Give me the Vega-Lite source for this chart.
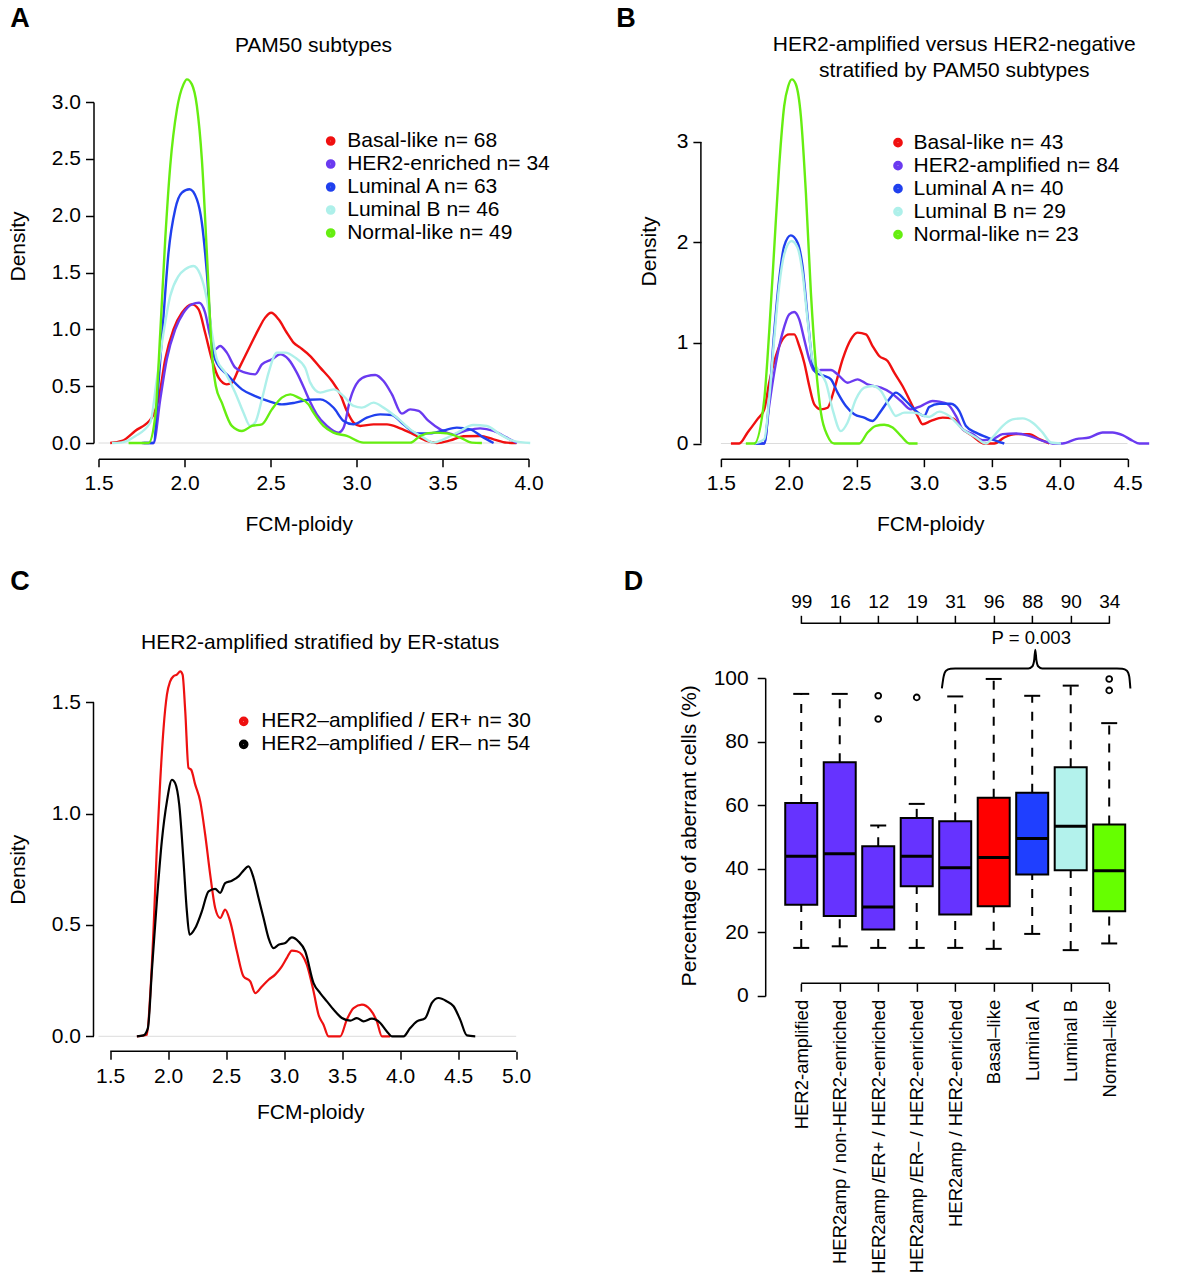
{
  "$schema": "https://vega.github.io/schema/vega-lite/v6.json",
  "background": "white",
  "padding": {"left": 6.5, "top": 4, "right": 5, "bottom": 5},
  "columns": 2,
  "bounds": "flush",
  "align": "all",
  "spacing": {"row": 217, "column": 192.4},
  "resolve": {"scale": {"color": "independent", "x": "independent", "y": "independent"}, "legend": {"color": "independent"}},
  "config": {
    "font": "Liberation Sans",
    "view": {"stroke": null},
    "axis": {"grid": false, "labelFont": "Liberation Sans", "titleFont": "Liberation Sans", "labelFontSize": 21, "titleFontSize": 21, "titleFontWeight": "normal", "labelColor": "#000", "titleColor": "#000", "tickColor": "#000", "domainColor": "#000", "tickSize": 8, "tickWidth": 1.5, "domainWidth": 1.5, "labelFlush": false, "labelOverlap": false, "labelPadding": 6, "labelLimit": 400},
    "legend": {"labelFont": "Liberation Sans", "labelFontSize": 21, "labelColor": "#000", "symbolType": "circle", "symbolSize": 20, "symbolStrokeWidth": 5.2, "rowPadding": 1, "clipHeight": 21, "padding": 0, "labelLimit": 600}
  },
  "datasets": {
    "pamA": [
      {"g":"Basal-like n= 68","x":1.568,"y":0},{"g":"Basal-like n= 68","x":1.636,"y":0.018},{"g":"Basal-like n= 68","x":1.713,"y":0.106},{"g":"Basal-like n= 68","x":1.81,"y":0.223},{"g":"Basal-like n= 68","x":1.849,"y":0.384},{"g":"Basal-like n= 68","x":1.888,"y":0.736},{"g":"Basal-like n= 68","x":1.936,"y":1.0},{"g":"Basal-like n= 68","x":1.985,"y":1.146},{"g":"Basal-like n= 68","x":2.043,"y":1.22},{"g":"Basal-like n= 68","x":2.082,"y":1.176},{"g":"Basal-like n= 68","x":2.12,"y":0.97},{"g":"Basal-like n= 68","x":2.159,"y":0.736},{"g":"Basal-like n= 68","x":2.198,"y":0.575},{"g":"Basal-like n= 68","x":2.246,"y":0.516},{"g":"Basal-like n= 68","x":2.275,"y":0.53},{"g":"Basal-like n= 68","x":2.314,"y":0.648},{"g":"Basal-like n= 68","x":2.372,"y":0.824},{"g":"Basal-like n= 68","x":2.43,"y":1.0},{"g":"Basal-like n= 68","x":2.469,"y":1.103},{"g":"Basal-like n= 68","x":2.504,"y":1.146},{"g":"Basal-like n= 68","x":2.547,"y":1.088},{"g":"Basal-like n= 68","x":2.595,"y":0.97},{"g":"Basal-like n= 68","x":2.634,"y":0.883},{"g":"Basal-like n= 68","x":2.673,"y":0.839},{"g":"Basal-like n= 68","x":2.731,"y":0.765},{"g":"Basal-like n= 68","x":2.789,"y":0.663},{"g":"Basal-like n= 68","x":2.857,"y":0.545},{"g":"Basal-like n= 68","x":2.905,"y":0.428},{"g":"Basal-like n= 68","x":2.944,"y":0.282},{"g":"Basal-like n= 68","x":2.983,"y":0.179},{"g":"Basal-like n= 68","x":3.021,"y":0.15},{"g":"Basal-like n= 68","x":3.099,"y":0.164},{"g":"Basal-like n= 68","x":3.177,"y":0.164},{"g":"Basal-like n= 68","x":3.254,"y":0.129},{"g":"Basal-like n= 68","x":3.332,"y":0.076},{"g":"Basal-like n= 68","x":3.409,"y":0.018},{"g":"Basal-like n= 68","x":3.467,"y":0},{"g":"Basal-like n= 68","x":3.545,"y":0.023},{"g":"Basal-like n= 68","x":3.622,"y":0.059},{"g":"Basal-like n= 68","x":3.719,"y":0.062},{"g":"Basal-like n= 68","x":3.797,"y":0.032},{"g":"Basal-like n= 68","x":3.874,"y":0.003},{"g":"Basal-like n= 68","x":3.93,"y":0},
      {"g":"HER2-enriched n= 34","x":1.752,"y":0},{"g":"HER2-enriched n= 34","x":1.82,"y":0},{"g":"HER2-enriched n= 34","x":1.859,"y":0.384},{"g":"HER2-enriched n= 34","x":1.897,"y":0.736},{"g":"HER2-enriched n= 34","x":1.946,"y":1.0},{"g":"HER2-enriched n= 34","x":1.994,"y":1.146},{"g":"HER2-enriched n= 34","x":2.043,"y":1.22},{"g":"HER2-enriched n= 34","x":2.085,"y":1.234},{"g":"HER2-enriched n= 34","x":2.12,"y":1.146},{"g":"HER2-enriched n= 34","x":2.149,"y":0.941},{"g":"HER2-enriched n= 34","x":2.178,"y":0.824},{"g":"HER2-enriched n= 34","x":2.207,"y":0.853},{"g":"HER2-enriched n= 34","x":2.246,"y":0.795},{"g":"HER2-enriched n= 34","x":2.295,"y":0.663},{"g":"HER2-enriched n= 34","x":2.353,"y":0.619},{"g":"HER2-enriched n= 34","x":2.411,"y":0.604},{"g":"HER2-enriched n= 34","x":2.45,"y":0.692},{"g":"HER2-enriched n= 34","x":2.508,"y":0.736},{"g":"HER2-enriched n= 34","x":2.556,"y":0.78},{"g":"HER2-enriched n= 34","x":2.605,"y":0.736},{"g":"HER2-enriched n= 34","x":2.653,"y":0.619},{"g":"HER2-enriched n= 34","x":2.702,"y":0.46},{"g":"HER2-enriched n= 34","x":2.731,"y":0.36},{"g":"HER2-enriched n= 34","x":2.769,"y":0.252},{"g":"HER2-enriched n= 34","x":2.828,"y":0.15},{"g":"HER2-enriched n= 34","x":2.895,"y":0.091},{"g":"HER2-enriched n= 34","x":2.925,"y":0.135},{"g":"HER2-enriched n= 34","x":2.963,"y":0.384},{"g":"HER2-enriched n= 34","x":3.012,"y":0.545},{"g":"HER2-enriched n= 34","x":3.06,"y":0.589},{"g":"HER2-enriched n= 34","x":3.109,"y":0.598},{"g":"HER2-enriched n= 34","x":3.157,"y":0.545},{"g":"HER2-enriched n= 34","x":3.206,"y":0.428},{"g":"HER2-enriched n= 34","x":3.264,"y":0.258},{"g":"HER2-enriched n= 34","x":3.312,"y":0.296},{"g":"HER2-enriched n= 34","x":3.361,"y":0.282},{"g":"HER2-enriched n= 34","x":3.419,"y":0.194},{"g":"HER2-enriched n= 34","x":3.487,"y":0.12},{"g":"HER2-enriched n= 34","x":3.564,"y":0.076},{"g":"HER2-enriched n= 34","x":3.641,"y":0.111},{"g":"HER2-enriched n= 34","x":3.719,"y":0.129},{"g":"HER2-enriched n= 34","x":3.797,"y":0.106},{"g":"HER2-enriched n= 34","x":3.874,"y":0.047},{"g":"HER2-enriched n= 34","x":3.933,"y":0},
      {"g":"Luminal A n= 63","x":1.762,"y":0},{"g":"Luminal A n= 63","x":1.82,"y":0},{"g":"Luminal A n= 63","x":1.849,"y":0.53},{"g":"Luminal A n= 63","x":1.878,"y":1.117},{"g":"Luminal A n= 63","x":1.907,"y":1.674},{"g":"Luminal A n= 63","x":1.946,"y":2.056},{"g":"Luminal A n= 63","x":1.985,"y":2.202},{"g":"Luminal A n= 63","x":2.029,"y":2.232},{"g":"Luminal A n= 63","x":2.072,"y":2.144},{"g":"Luminal A n= 63","x":2.101,"y":1.938},{"g":"Luminal A n= 63","x":2.13,"y":1.498},{"g":"Luminal A n= 63","x":2.159,"y":0.883},{"g":"Luminal A n= 63","x":2.178,"y":0.736},{"g":"Luminal A n= 63","x":2.256,"y":0.589},{"g":"Luminal A n= 63","x":2.334,"y":0.472},{"g":"Luminal A n= 63","x":2.411,"y":0.413},{"g":"Luminal A n= 63","x":2.489,"y":0.369},{"g":"Luminal A n= 63","x":2.566,"y":0.34},{"g":"Luminal A n= 63","x":2.644,"y":0.355},{"g":"Luminal A n= 63","x":2.72,"y":0.38},{"g":"Luminal A n= 63","x":2.789,"y":0.384},{"g":"Luminal A n= 63","x":2.867,"y":0.31},{"g":"Luminal A n= 63","x":2.925,"y":0.194},{"g":"Luminal A n= 63","x":2.983,"y":0.164},{"g":"Luminal A n= 63","x":3.06,"y":0.223},{"g":"Luminal A n= 63","x":3.138,"y":0.252},{"g":"Luminal A n= 63","x":3.206,"y":0.246},{"g":"Luminal A n= 63","x":3.273,"y":0.164},{"g":"Luminal A n= 63","x":3.351,"y":0.085},{"g":"Luminal A n= 63","x":3.428,"y":0.085},{"g":"Luminal A n= 63","x":3.506,"y":0.111},{"g":"Luminal A n= 63","x":3.583,"y":0.135},{"g":"Luminal A n= 63","x":3.661,"y":0.12},{"g":"Luminal A n= 63","x":3.739,"y":0.047},{"g":"Luminal A n= 63","x":3.797,"y":0},
      {"g":"Luminal B n= 46","x":1.578,"y":0},{"g":"Luminal B n= 46","x":1.636,"y":0.006},{"g":"Luminal B n= 46","x":1.713,"y":0.06},{"g":"Luminal B n= 46","x":1.801,"y":0.18},{"g":"Luminal B n= 46","x":1.839,"y":0.56},{"g":"Luminal B n= 46","x":1.878,"y":0.97},{"g":"Luminal B n= 46","x":1.917,"y":1.293},{"g":"Luminal B n= 46","x":1.965,"y":1.469},{"g":"Luminal B n= 46","x":2.004,"y":1.528},{"g":"Luminal B n= 46","x":2.052,"y":1.557},{"g":"Luminal B n= 46","x":2.091,"y":1.484},{"g":"Luminal B n= 46","x":2.13,"y":1.264},{"g":"Luminal B n= 46","x":2.159,"y":0.97},{"g":"Luminal B n= 46","x":2.188,"y":0.736},{"g":"Luminal B n= 46","x":2.237,"y":0.619},{"g":"Luminal B n= 46","x":2.295,"y":0.443},{"g":"Luminal B n= 46","x":2.343,"y":0.267},{"g":"Luminal B n= 46","x":2.382,"y":0.15},{"g":"Luminal B n= 46","x":2.411,"y":0.18},{"g":"Luminal B n= 46","x":2.45,"y":0.384},{"g":"Luminal B n= 46","x":2.489,"y":0.619},{"g":"Luminal B n= 46","x":2.537,"y":0.795},{"g":"Luminal B n= 46","x":2.585,"y":0.795},{"g":"Luminal B n= 46","x":2.644,"y":0.751},{"g":"Luminal B n= 46","x":2.702,"y":0.66},{"g":"Luminal B n= 46","x":2.731,"y":0.531},{"g":"Luminal B n= 46","x":2.789,"y":0.443},{"g":"Luminal B n= 46","x":2.867,"y":0.472},{"g":"Luminal B n= 46","x":2.925,"y":0.413},{"g":"Luminal B n= 46","x":2.983,"y":0.326},{"g":"Luminal B n= 46","x":3.031,"y":0.311},{"g":"Luminal B n= 46","x":3.099,"y":0.355},{"g":"Luminal B n= 46","x":3.157,"y":0.311},{"g":"Luminal B n= 46","x":3.235,"y":0.223},{"g":"Luminal B n= 46","x":3.312,"y":0.12},{"g":"Luminal B n= 46","x":3.39,"y":0.047},{"g":"Luminal B n= 46","x":3.448,"y":0.003},{"g":"Luminal B n= 46","x":3.506,"y":0.032},{"g":"Luminal B n= 46","x":3.584,"y":0.09},{"g":"Luminal B n= 46","x":3.68,"y":0.158},{"g":"Luminal B n= 46","x":3.758,"y":0.15},{"g":"Luminal B n= 46","x":3.835,"y":0.076},{"g":"Luminal B n= 46","x":3.913,"y":0.018},{"g":"Luminal B n= 46","x":4.01,"y":0},
      {"g":"Normal-like n= 49","x":1.675,"y":0},{"g":"Normal-like n= 49","x":1.791,"y":0},{"g":"Normal-like n= 49","x":1.83,"y":0.237},{"g":"Normal-like n= 49","x":1.859,"y":0.97},{"g":"Normal-like n= 49","x":1.888,"y":1.792},{"g":"Normal-like n= 49","x":1.917,"y":2.437},{"g":"Normal-like n= 49","x":1.956,"y":2.935},{"g":"Normal-like n= 49","x":1.994,"y":3.155},{"g":"Normal-like n= 49","x":2.014,"y":3.199},{"g":"Normal-like n= 49","x":2.043,"y":3.155},{"g":"Normal-like n= 49","x":2.072,"y":2.965},{"g":"Normal-like n= 49","x":2.101,"y":2.495},{"g":"Normal-like n= 49","x":2.13,"y":1.674},{"g":"Normal-like n= 49","x":2.159,"y":0.795},{"g":"Normal-like n= 49","x":2.182,"y":0.501},{"g":"Normal-like n= 49","x":2.217,"y":0.355},{"g":"Normal-like n= 49","x":2.275,"y":0.15},{"g":"Normal-like n= 49","x":2.334,"y":0.105},{"g":"Normal-like n= 49","x":2.392,"y":0.15},{"g":"Normal-like n= 49","x":2.45,"y":0.164},{"g":"Normal-like n= 49","x":2.508,"y":0.296},{"g":"Normal-like n= 49","x":2.566,"y":0.399},{"g":"Normal-like n= 49","x":2.615,"y":0.428},{"g":"Normal-like n= 49","x":2.663,"y":0.399},{"g":"Normal-like n= 49","x":2.721,"y":0.34},{"g":"Normal-like n= 49","x":2.75,"y":0.267},{"g":"Normal-like n= 49","x":2.808,"y":0.15},{"g":"Normal-like n= 49","x":2.866,"y":0.091},{"g":"Normal-like n= 49","x":2.944,"y":0.062},{"g":"Normal-like n= 49","x":3.041,"y":0.003},{"g":"Normal-like n= 49","x":3.312,"y":0.003},{"g":"Normal-like n= 49","x":3.37,"y":0.062},{"g":"Normal-like n= 49","x":3.448,"y":0.091},{"g":"Normal-like n= 49","x":3.525,"y":0.085},{"g":"Normal-like n= 49","x":3.603,"y":0.047},{"g":"Normal-like n= 49","x":3.671,"y":0.003},{"g":"Normal-like n= 49","x":3.729,"y":0}
    ],
    "pamB": [
      {"g":"Basal-like n= 43","x":1.574,"y":0},{"g":"Basal-like n= 43","x":1.635,"y":0},{"g":"Basal-like n= 43","x":1.697,"y":0.109},{"g":"Basal-like n= 43","x":1.77,"y":0.242},{"g":"Basal-like n= 43","x":1.82,"y":0.34},{"g":"Basal-like n= 43","x":1.856,"y":0.605},{"g":"Basal-like n= 43","x":1.906,"y":0.871},{"g":"Basal-like n= 43","x":1.955,"y":1.036},{"g":"Basal-like n= 43","x":2.004,"y":1.086},{"g":"Basal-like n= 43","x":2.041,"y":1.086},{"g":"Basal-like n= 43","x":2.078,"y":0.97},{"g":"Basal-like n= 43","x":2.115,"y":0.804},{"g":"Basal-like n= 43","x":2.152,"y":0.572},{"g":"Basal-like n= 43","x":2.189,"y":0.39},{"g":"Basal-like n= 43","x":2.238,"y":0.34},{"g":"Basal-like n= 43","x":2.287,"y":0.356},{"g":"Basal-like n= 43","x":2.336,"y":0.539},{"g":"Basal-like n= 43","x":2.398,"y":0.837},{"g":"Basal-like n= 43","x":2.459,"y":1.036},{"g":"Basal-like n= 43","x":2.508,"y":1.103},{"g":"Basal-like n= 43","x":2.57,"y":1.086},{"g":"Basal-like n= 43","x":2.619,"y":0.97},{"g":"Basal-like n= 43","x":2.668,"y":0.871},{"g":"Basal-like n= 43","x":2.73,"y":0.821},{"g":"Basal-like n= 43","x":2.779,"y":0.705},{"g":"Basal-like n= 43","x":2.84,"y":0.572},{"g":"Basal-like n= 43","x":2.902,"y":0.406},{"g":"Basal-like n= 43","x":2.951,"y":0.274},{"g":"Basal-like n= 43","x":2.988,"y":0.191},{"g":"Basal-like n= 43","x":3.05,"y":0.224},{"g":"Basal-like n= 43","x":3.136,"y":0.257},{"g":"Basal-like n= 43","x":3.21,"y":0.25},{"g":"Basal-like n= 43","x":3.283,"y":0.143},{"g":"Basal-like n= 43","x":3.357,"y":0.075},{"g":"Basal-like n= 43","x":3.443,"y":0},{"g":"Basal-like n= 43","x":3.517,"y":0},{"g":"Basal-like n= 43","x":3.591,"y":0.06},{"g":"Basal-like n= 43","x":3.677,"y":0.093},{"g":"Basal-like n= 43","x":3.775,"y":0.093},{"g":"Basal-like n= 43","x":3.849,"y":0.043},{"g":"Basal-like n= 43","x":3.923,"y":0},
      {"g":"HER2-amplified n= 84","x":1.746,"y":0},{"g":"HER2-amplified n= 84","x":1.82,"y":0},{"g":"HER2-amplified n= 84","x":1.856,"y":0.373},{"g":"HER2-amplified n= 84","x":1.906,"y":0.804},{"g":"HER2-amplified n= 84","x":1.955,"y":1.103},{"g":"HER2-amplified n= 84","x":2.004,"y":1.285},{"g":"HER2-amplified n= 84","x":2.041,"y":1.308},{"g":"HER2-amplified n= 84","x":2.078,"y":1.235},{"g":"HER2-amplified n= 84","x":2.115,"y":1.036},{"g":"HER2-amplified n= 84","x":2.152,"y":0.837},{"g":"HER2-amplified n= 84","x":2.189,"y":0.721},{"g":"HER2-amplified n= 84","x":2.238,"y":0.731},{"g":"HER2-amplified n= 84","x":2.312,"y":0.731},{"g":"HER2-amplified n= 84","x":2.361,"y":0.688},{"g":"HER2-amplified n= 84","x":2.435,"y":0.605},{"g":"HER2-amplified n= 84","x":2.508,"y":0.638},{"g":"HER2-amplified n= 84","x":2.582,"y":0.588},{"g":"HER2-amplified n= 84","x":2.681,"y":0.555},{"g":"HER2-amplified n= 84","x":2.754,"y":0.506},{"g":"HER2-amplified n= 84","x":2.828,"y":0.423},{"g":"HER2-amplified n= 84","x":2.902,"y":0.34},{"g":"HER2-amplified n= 84","x":2.976,"y":0.373},{"g":"HER2-amplified n= 84","x":3.062,"y":0.423},{"g":"HER2-amplified n= 84","x":3.111,"y":0.416},{"g":"HER2-amplified n= 84","x":3.173,"y":0.39},{"g":"HER2-amplified n= 84","x":3.234,"y":0.274},{"g":"HER2-amplified n= 84","x":3.283,"y":0.143},{"g":"HER2-amplified n= 84","x":3.357,"y":0.093},{"g":"HER2-amplified n= 84","x":3.431,"y":0.033},{"g":"HER2-amplified n= 84","x":3.505,"y":0.043},{"g":"HER2-amplified n= 84","x":3.578,"y":0.093},{"g":"HER2-amplified n= 84","x":3.677,"y":0.1},{"g":"HER2-amplified n= 84","x":3.775,"y":0.076},{"g":"HER2-amplified n= 84","x":3.874,"y":0.027},{"g":"HER2-amplified n= 84","x":3.947,"y":0},{"g":"HER2-amplified n= 84","x":4.021,"y":0},{"g":"HER2-amplified n= 84","x":4.12,"y":0.043},{"g":"HER2-amplified n= 84","x":4.218,"y":0.06},{"g":"HER2-amplified n= 84","x":4.317,"y":0.11},{"g":"HER2-amplified n= 84","x":4.39,"y":0.11},{"g":"HER2-amplified n= 84","x":4.464,"y":0.083},{"g":"HER2-amplified n= 84","x":4.538,"y":0.027},{"g":"HER2-amplified n= 84","x":4.587,"y":0},{"g":"HER2-amplified n= 84","x":4.66,"y":0},
      {"g":"Luminal A n= 40","x":1.746,"y":0},{"g":"Luminal A n= 40","x":1.82,"y":0},{"g":"Luminal A n= 40","x":1.856,"y":0.44},{"g":"Luminal A n= 40","x":1.893,"y":1.103},{"g":"Luminal A n= 40","x":1.93,"y":1.633},{"g":"Luminal A n= 40","x":1.967,"y":1.965},{"g":"Luminal A n= 40","x":2.016,"y":2.071},{"g":"Luminal A n= 40","x":2.066,"y":1.998},{"g":"Luminal A n= 40","x":2.102,"y":1.766},{"g":"Luminal A n= 40","x":2.139,"y":1.268},{"g":"Luminal A n= 40","x":2.176,"y":0.804},{"g":"Luminal A n= 40","x":2.201,"y":0.705},{"g":"Luminal A n= 40","x":2.262,"y":0.672},{"g":"Luminal A n= 40","x":2.312,"y":0.638},{"g":"Luminal A n= 40","x":2.361,"y":0.506},{"g":"Luminal A n= 40","x":2.422,"y":0.373},{"g":"Luminal A n= 40","x":2.484,"y":0.291},{"g":"Luminal A n= 40","x":2.557,"y":0.257},{"g":"Luminal A n= 40","x":2.619,"y":0.224},{"g":"Luminal A n= 40","x":2.681,"y":0.324},{"g":"Luminal A n= 40","x":2.742,"y":0.44},{"g":"Luminal A n= 40","x":2.791,"y":0.506},{"g":"Luminal A n= 40","x":2.853,"y":0.44},{"g":"Luminal A n= 40","x":2.926,"y":0.34},{"g":"Luminal A n= 40","x":3.0,"y":0.274},{"g":"Luminal A n= 40","x":3.037,"y":0.363},{"g":"Luminal A n= 40","x":3.111,"y":0.396},{"g":"Luminal A n= 40","x":3.197,"y":0.396},{"g":"Luminal A n= 40","x":3.259,"y":0.323},{"g":"Luminal A n= 40","x":3.308,"y":0.174},{"g":"Luminal A n= 40","x":3.382,"y":0.108},{"g":"Luminal A n= 40","x":3.48,"y":0.052},{"g":"Luminal A n= 40","x":3.591,"y":0},
      {"g":"Luminal B n= 29","x":1.746,"y":0},{"g":"Luminal B n= 29","x":1.82,"y":0.043},{"g":"Luminal B n= 29","x":1.856,"y":0.44},{"g":"Luminal B n= 29","x":1.893,"y":1.036},{"g":"Luminal B n= 29","x":1.93,"y":1.567},{"g":"Luminal B n= 29","x":1.967,"y":1.882},{"g":"Luminal B n= 29","x":2.021,"y":2.015},{"g":"Luminal B n= 29","x":2.066,"y":1.948},{"g":"Luminal B n= 29","x":2.102,"y":1.7},{"g":"Luminal B n= 29","x":2.139,"y":1.235},{"g":"Luminal B n= 29","x":2.176,"y":0.837},{"g":"Luminal B n= 29","x":2.225,"y":0.721},{"g":"Luminal B n= 29","x":2.275,"y":0.605},{"g":"Luminal B n= 29","x":2.324,"y":0.34},{"g":"Luminal B n= 29","x":2.385,"y":0.123},{"g":"Luminal B n= 29","x":2.434,"y":0.207},{"g":"Luminal B n= 29","x":2.496,"y":0.44},{"g":"Luminal B n= 29","x":2.558,"y":0.555},{"g":"Luminal B n= 29","x":2.619,"y":0.572},{"g":"Luminal B n= 29","x":2.681,"y":0.522},{"g":"Luminal B n= 29","x":2.742,"y":0.373},{"g":"Luminal B n= 29","x":2.791,"y":0.274},{"g":"Luminal B n= 29","x":2.853,"y":0.307},{"g":"Luminal B n= 29","x":2.926,"y":0.307},{"g":"Luminal B n= 29","x":3.0,"y":0.274},{"g":"Luminal B n= 29","x":3.037,"y":0.264},{"g":"Luminal B n= 29","x":3.111,"y":0.317},{"g":"Luminal B n= 29","x":3.185,"y":0.274},{"g":"Luminal B n= 29","x":3.283,"y":0.143},{"g":"Luminal B n= 29","x":3.382,"y":0.06},{"g":"Luminal B n= 29","x":3.455,"y":0},{"g":"Luminal B n= 29","x":3.505,"y":0.06},{"g":"Luminal B n= 29","x":3.578,"y":0.174},{"g":"Luminal B n= 29","x":3.652,"y":0.24},{"g":"Luminal B n= 29","x":3.726,"y":0.25},{"g":"Luminal B n= 29","x":3.8,"y":0.207},{"g":"Luminal B n= 29","x":3.874,"y":0.108},{"g":"Luminal B n= 29","x":3.935,"y":0.01},{"g":"Luminal B n= 29","x":4.009,"y":0},
      {"g":"Normal-like n= 23","x":1.684,"y":0},{"g":"Normal-like n= 23","x":1.746,"y":0},{"g":"Normal-like n= 23","x":1.82,"y":0.44},{"g":"Normal-like n= 23","x":1.856,"y":1.103},{"g":"Normal-like n= 23","x":1.893,"y":1.932},{"g":"Normal-like n= 23","x":1.93,"y":2.761},{"g":"Normal-like n= 23","x":1.967,"y":3.358},{"g":"Normal-like n= 23","x":1.997,"y":3.557},{"g":"Normal-like n= 23","x":2.024,"y":3.623},{"g":"Normal-like n= 23","x":2.053,"y":3.574},{"g":"Normal-like n= 23","x":2.09,"y":3.258},{"g":"Normal-like n= 23","x":2.127,"y":2.496},{"g":"Normal-like n= 23","x":2.164,"y":1.501},{"g":"Normal-like n= 23","x":2.201,"y":0.771},{"g":"Normal-like n= 23","x":2.238,"y":0.307},{"g":"Normal-like n= 23","x":2.287,"y":0.076},{"g":"Normal-like n= 23","x":2.336,"y":0},{"g":"Normal-like n= 23","x":2.521,"y":0},{"g":"Normal-like n= 23","x":2.582,"y":0.109},{"g":"Normal-like n= 23","x":2.644,"y":0.176},{"g":"Normal-like n= 23","x":2.705,"y":0.186},{"g":"Normal-like n= 23","x":2.767,"y":0.159},{"g":"Normal-like n= 23","x":2.828,"y":0.076},{"g":"Normal-like n= 23","x":2.89,"y":0},{"g":"Normal-like n= 23","x":2.951,"y":0}
    ],
    "erC": [
      {"g":"HER2–amplified / ER+ n= 30","x":1.73,"y":0},{"g":"HER2–amplified / ER+ n= 30","x":1.816,"y":0.007},{"g":"HER2–amplified / ER+ n= 30","x":1.845,"y":0.187},{"g":"HER2–amplified / ER+ n= 30","x":1.874,"y":0.486},{"g":"HER2–amplified / ER+ n= 30","x":1.902,"y":0.846},{"g":"HER2–amplified / ER+ n= 30","x":1.931,"y":1.145},{"g":"HER2–amplified / ER+ n= 30","x":1.96,"y":1.384},{"g":"HER2–amplified / ER+ n= 30","x":1.989,"y":1.534},{"g":"HER2–amplified / ER+ n= 30","x":2.017,"y":1.594},{"g":"HER2–amplified / ER+ n= 30","x":2.046,"y":1.617},{"g":"HER2–amplified / ER+ n= 30","x":2.075,"y":1.624},{"g":"HER2–amplified / ER+ n= 30","x":2.104,"y":1.639},{"g":"HER2–amplified / ER+ n= 30","x":2.124,"y":1.624},{"g":"HER2–amplified / ER+ n= 30","x":2.147,"y":1.459},{"g":"HER2–amplified / ER+ n= 30","x":2.175,"y":1.205},{"g":"HER2–amplified / ER+ n= 30","x":2.198,"y":1.197},{"g":"HER2–amplified / ER+ n= 30","x":2.233,"y":1.13},{"g":"HER2–amplified / ER+ n= 30","x":2.276,"y":1.055},{"g":"HER2–amplified / ER+ n= 30","x":2.319,"y":0.905},{"g":"HER2–amplified / ER+ n= 30","x":2.362,"y":0.726},{"g":"HER2–amplified / ER+ n= 30","x":2.405,"y":0.576},{"g":"HER2–amplified / ER+ n= 30","x":2.448,"y":0.531},{"g":"HER2–amplified / ER+ n= 30","x":2.491,"y":0.569},{"g":"HER2–amplified / ER+ n= 30","x":2.534,"y":0.516},{"g":"HER2–amplified / ER+ n= 30","x":2.592,"y":0.382},{"g":"HER2–amplified / ER+ n= 30","x":2.649,"y":0.269},{"g":"HER2–amplified / ER+ n= 30","x":2.707,"y":0.247},{"g":"HER2–amplified / ER+ n= 30","x":2.75,"y":0.194},{"g":"HER2–amplified / ER+ n= 30","x":2.808,"y":0.224},{"g":"HER2–amplified / ER+ n= 30","x":2.865,"y":0.254},{"g":"HER2–amplified / ER+ n= 30","x":2.922,"y":0.277},{"g":"HER2–amplified / ER+ n= 30","x":2.98,"y":0.314},{"g":"HER2–amplified / ER+ n= 30","x":3.023,"y":0.352},{"g":"HER2–amplified / ER+ n= 30","x":3.066,"y":0.385},{"g":"HER2–amplified / ER+ n= 30","x":3.109,"y":0.382},{"g":"HER2–amplified / ER+ n= 30","x":3.152,"y":0.367},{"g":"HER2–amplified / ER+ n= 30","x":3.195,"y":0.322},{"g":"HER2–amplified / ER+ n= 30","x":3.253,"y":0.202},{"g":"HER2–amplified / ER+ n= 30","x":3.296,"y":0.097},{"g":"HER2–amplified / ER+ n= 30","x":3.339,"y":0.052},{"g":"HER2–amplified / ER+ n= 30","x":3.382,"y":0},{"g":"HER2–amplified / ER+ n= 30","x":3.483,"y":0},{"g":"HER2–amplified / ER+ n= 30","x":3.54,"y":0.075},{"g":"HER2–amplified / ER+ n= 30","x":3.598,"y":0.127},{"g":"HER2–amplified / ER+ n= 30","x":3.67,"y":0.142},{"g":"HER2–amplified / ER+ n= 30","x":3.741,"y":0.12},{"g":"HER2–amplified / ER+ n= 30","x":3.799,"y":0.067},{"g":"HER2–amplified / ER+ n= 30","x":3.842,"y":0},{"g":"HER2–amplified / ER+ n= 30","x":3.914,"y":0},
      {"g":"HER2–amplified / ER– n= 54","x":1.73,"y":0},{"g":"HER2–amplified / ER– n= 54","x":1.787,"y":0.004},{"g":"HER2–amplified / ER– n= 54","x":1.825,"y":0.037},{"g":"HER2–amplified / ER– n= 54","x":1.859,"y":0.292},{"g":"HER2–amplified / ER– n= 54","x":1.902,"y":0.606},{"g":"HER2–amplified / ER– n= 54","x":1.945,"y":0.876},{"g":"HER2–amplified / ER– n= 54","x":1.989,"y":1.055},{"g":"HER2–amplified / ER– n= 54","x":2.032,"y":1.152},{"g":"HER2–amplified / ER– n= 54","x":2.06,"y":1.137},{"g":"HER2–amplified / ER– n= 54","x":2.095,"y":1.04},{"g":"HER2–amplified / ER– n= 54","x":2.132,"y":0.786},{"g":"HER2–amplified / ER– n= 54","x":2.161,"y":0.561},{"g":"HER2–amplified / ER– n= 54","x":2.184,"y":0.456},{"g":"HER2–amplified / ER– n= 54","x":2.233,"y":0.486},{"g":"HER2–amplified / ER– n= 54","x":2.29,"y":0.561},{"g":"HER2–amplified / ER– n= 54","x":2.348,"y":0.651},{"g":"HER2–amplified / ER– n= 54","x":2.405,"y":0.662},{"g":"HER2–amplified / ER– n= 54","x":2.448,"y":0.644},{"g":"HER2–amplified / ER– n= 54","x":2.491,"y":0.688},{"g":"HER2–amplified / ER– n= 54","x":2.549,"y":0.699},{"g":"HER2–amplified / ER– n= 54","x":2.606,"y":0.718},{"g":"HER2–amplified / ER– n= 54","x":2.649,"y":0.744},{"g":"HER2–amplified / ER– n= 54","x":2.693,"y":0.763},{"g":"HER2–amplified / ER– n= 54","x":2.736,"y":0.711},{"g":"HER2–amplified / ER– n= 54","x":2.779,"y":0.621},{"g":"HER2–amplified / ER– n= 54","x":2.822,"y":0.531},{"g":"HER2–amplified / ER– n= 54","x":2.865,"y":0.441},{"g":"HER2–amplified / ER– n= 54","x":2.908,"y":0.396},{"g":"HER2–amplified / ER– n= 54","x":2.951,"y":0.411},{"g":"HER2–amplified / ER– n= 54","x":3.009,"y":0.419},{"g":"HER2–amplified / ER– n= 54","x":3.066,"y":0.444},{"g":"HER2–amplified / ER– n= 54","x":3.123,"y":0.426},{"g":"HER2–amplified / ER– n= 54","x":3.181,"y":0.382},{"g":"HER2–amplified / ER– n= 54","x":3.253,"y":0.239},{"g":"HER2–amplified / ER– n= 54","x":3.31,"y":0.194},{"g":"HER2–amplified / ER– n= 54","x":3.368,"y":0.157},{"g":"HER2–amplified / ER– n= 54","x":3.425,"y":0.12},{"g":"HER2–amplified / ER– n= 54","x":3.497,"y":0.082},{"g":"HER2–amplified / ER– n= 54","x":3.569,"y":0.07},{"g":"HER2–amplified / ER– n= 54","x":3.626,"y":0.082},{"g":"HER2–amplified / ER– n= 54","x":3.684,"y":0.067},{"g":"HER2–amplified / ER– n= 54","x":3.756,"y":0.079},{"g":"HER2–amplified / ER– n= 54","x":3.828,"y":0.06},{"g":"HER2–amplified / ER– n= 54","x":3.885,"y":0.022},{"g":"HER2–amplified / ER– n= 54","x":3.928,"y":0},{"g":"HER2–amplified / ER– n= 54","x":4.029,"y":0},{"g":"HER2–amplified / ER– n= 54","x":4.086,"y":0.037},{"g":"HER2–amplified / ER– n= 54","x":4.144,"y":0.067},{"g":"HER2–amplified / ER– n= 54","x":4.216,"y":0.082},{"g":"HER2–amplified / ER– n= 54","x":4.273,"y":0.15},{"g":"HER2–amplified / ER– n= 54","x":4.331,"y":0.172},{"g":"HER2–amplified / ER– n= 54","x":4.402,"y":0.157},{"g":"HER2–amplified / ER– n= 54","x":4.46,"y":0.135},{"g":"HER2–amplified / ER– n= 54","x":4.517,"y":0.075},{"g":"HER2–amplified / ER– n= 54","x":4.575,"y":0.004},{"g":"HER2–amplified / ER– n= 54","x":4.647,"y":0}
    ],
    "boxD": [
      {"i":1,"grp":"HER2-amplified","n":99,"mn":15.1,"q1":28.7,"med":43.9,"q3":60.7,"mx":95.0},
      {"i":2,"grp":"HER2amp / non-HER2-enriched","n":16,"mn":15.6,"q1":25.1,"med":44.7,"q3":73.5,"mx":95.0},
      {"i":3,"grp":"HER2amp /ER+ / HER2-enriched","n":12,"mn":15.1,"q1":20.9,"med":28.0,"q3":47.1,"mx":53.6},
      {"i":4,"grp":"HER2amp /ER– / HER2-enriched","n":19,"mn":15.1,"q1":34.5,"med":43.9,"q3":56.0,"mx":60.4},
      {"i":5,"grp":"HER2amp / HER2-enriched","n":31,"mn":15.1,"q1":25.6,"med":40.3,"q3":54.9,"mx":94.2},
      {"i":6,"grp":"Basal–like","n":96,"mn":14.8,"q1":28.2,"med":43.5,"q3":62.3,"mx":99.7},
      {"i":7,"grp":"Luminal A","n":88,"mn":19.5,"q1":38.2,"med":49.5,"q3":63.9,"mx":94.4},
      {"i":8,"grp":"Luminal B","n":90,"mn":14.4,"q1":39.5,"med":53.4,"q3":71.9,"mx":97.6},
      {"i":9,"grp":"Normal–like","n":34,"mn":16.5,"q1":26.6,"med":39.4,"q3":53.9,"mx":85.8}
    ],
    "outD": [
      {"i":3,"v":94.4},{"i":3,"v":87.1},{"i":4,"v":93.9},{"i":9,"v":99.7},{"i":9,"v":96.1}
    ],
    "braceD": [
      {"x":4.653,"y":96.7},{"x":4.7,"y":100.5},{"x":4.76,"y":102.3},{"x":4.88,"y":102.9},{"x":5.0,"y":103.0},{"x":6.9,"y":103.0},{"x":7.0,"y":103.6},{"x":7.05,"y":105.5},{"x":7.08,"y":108.9},{"x":7.11,"y":105.5},{"x":7.16,"y":103.6},{"x":7.26,"y":103.0},{"x":9.2,"y":103.0},{"x":9.34,"y":102.9},{"x":9.46,"y":102.3},{"x":9.52,"y":100.5},{"x":9.55,"y":96.7}
    ]
  },
  "concat": [
    {
      "width": 430, "height": 341,
      "layer": [
        {"data": {"values": [{}]}, "mark": {"type": "rule", "color": "#dcdcdc", "strokeWidth": 1}, "encoding": {"y": {"datum": 0}}},
        {"data": {"name": "pamA"}, "mark": {"type": "line", "strokeWidth": 2.4, "interpolate": "monotone"},
         "encoding": {
           "x": {"field": "x", "type": "quantitative", "scale": {"domain": [1.5, 4.0], "nice": false, "zero": false},
                 "axis": {"values": [1.5, 2, 2.5, 3, 3.5, 4], "format": ".1f", "offset": 15.7, "title": "FCM-ploidy", "titleX": 200.2, "titleY": 65.3, "titleAlign": "center", "titleBaseline": "middle", "titleAngle": 0}},
           "y": {"field": "y", "type": "quantitative", "scale": {"domain": [0, 3], "nice": false},
                 "axis": {"values": [0, 0.5, 1, 1.5, 2, 2.5, 3], "format": ".1f", "offset": 5, "title": "Density", "titleX": -75.3, "titleY": 144, "titleAngle": 270, "titleAlign": "center", "titleBaseline": "middle", "labelPadding": 5}},
           "color": {"field": "g", "type": "nominal",
                     "scale": {"domain": ["Basal-like n= 68", "HER2-enriched n= 34", "Luminal A n= 63", "Luminal B n= 46", "Normal-like n= 49"], "range": ["#F01010", "#6A3AF0", "#2040EE", "#AEF0EA", "#66EE11"]},
                     "legend": {"title": null, "orient": "none", "legendX": 221.7, "legendY": 28.5, "labelOffset": 6}}
         }},
        {"data": {"values": [{}]}, "mark": {"type": "text", "text": "A", "fontSize": 27, "fontWeight": "bold", "align": "left", "baseline": "middle", "color": "#000"}, "encoding": {"x": {"datum": 0.9866}, "y": {"datum": 3.73}}},
        {"data": {"values": [{}]}, "mark": {"type": "text", "text": "PAM50 subtypes", "fontSize": 21, "align": "center", "baseline": "middle", "color": "#000"}, "encoding": {"x": {"datum": 2.75}, "y": {"datum": 3.497}}}
      ]
    },
    {
      "width": 406.6, "height": 341.5,
      "layer": [
        {"data": {"values": [{}]}, "mark": {"type": "rule", "color": "#dcdcdc", "strokeWidth": 1}, "encoding": {"y": {"datum": 0}}},
        {"data": {"name": "pamB"}, "mark": {"type": "line", "strokeWidth": 2.4, "interpolate": "monotone"},
         "encoding": {
           "x": {"field": "x", "type": "quantitative", "scale": {"domain": [1.5, 4.5], "nice": false, "zero": false},
                 "axis": {"values": [1.5, 2, 2.5, 3, 3.5, 4, 4.5], "format": ".1f", "offset": 15.2, "title": "FCM-ploidy", "titleX": 209.3, "titleY": 65.3, "titleAlign": "center", "titleBaseline": "middle", "titleAngle": 0}},
           "y": {"field": "y", "type": "quantitative", "scale": {"domain": [0, 3.398], "nice": false},
                 "axis": {"values": [0, 1, 2, 3], "format": "d", "offset": 20, "domain": false, "title": "Density", "titleX": -51.7, "titleY": 149, "titleAngle": 270, "titleAlign": "center", "titleBaseline": "middle", "labelPadding": 5}},
           "color": {"field": "g", "type": "nominal",
                     "scale": {"domain": ["Basal-like n= 43", "HER2-amplified n= 84", "Luminal A n= 40", "Luminal B n= 29", "Normal-like n= 23"], "range": ["#F01010", "#6A3AF0", "#2040EE", "#AEF0EA", "#66EE11"]},
                     "legend": {"title": null, "orient": "none", "legendX": 166.6, "legendY": 30.2, "labelOffset": 5}}
         }},
        {"data": {"values": [{}]}, "mark": {"type": "rule", "color": "#000", "strokeWidth": 1.5}, "encoding": {"x": {"datum": 1.3524}, "y": {"datum": 0}, "y2": {"datum": 3}}},
        {"data": {"values": [{}]}, "mark": {"type": "text", "text": "B", "fontSize": 27, "fontWeight": "bold", "align": "left", "baseline": "middle", "color": "#000"}, "encoding": {"x": {"datum": 0.7273}, "y": {"datum": 4.224}}},
        {"data": {"values": [{}]}, "mark": {"type": "text", "text": ["HER2-amplified versus HER2-negative", "stratified by PAM50 subtypes"], "lineHeight": 26, "fontSize": 21, "align": "center", "baseline": "middle", "color": "#000"}, "encoding": {"x": {"datum": 3.2218}, "y": {"datum": 3.965}}}
      ]
    },
    {
      "width": 417.7, "height": 358.3,
      "layer": [
        {"data": {"values": [{}]}, "mark": {"type": "rule", "color": "#dcdcdc", "strokeWidth": 1}, "encoding": {"y": {"datum": 0}}},
        {"data": {"name": "erC"}, "mark": {"type": "line", "strokeWidth": 2.2, "interpolate": "monotone"},
         "encoding": {
           "x": {"field": "x", "type": "quantitative", "scale": {"domain": [1.3991, 5.0], "nice": false, "zero": false},
                 "axis": {"values": [1.5, 2, 2.5, 3, 3.5, 4, 4.5, 5], "format": ".1f", "offset": 15, "domain": false, "title": "FCM-ploidy", "titleX": 211.7, "titleY": 61, "titleAlign": "center", "titleBaseline": "middle", "titleAngle": 0}},
           "y": {"field": "y", "type": "quantitative", "scale": {"domain": [0, 1.609], "nice": false},
                 "axis": {"values": [0, 0.5, 1, 1.5], "format": ".1f", "offset": 5, "domain": false, "title": "Density", "titleX": -75.3, "titleY": 191.3, "titleAngle": 270, "titleAlign": "center", "titleBaseline": "middle", "labelPadding": 5}},
           "color": {"field": "g", "type": "nominal",
                     "scale": {"domain": ["HER2–amplified / ER+ n= 30", "HER2–amplified / ER– n= 54"], "range": ["#EE1111", "#000000"]},
                     "legend": {"title": null, "orient": "none", "legendX": 134.7, "legendY": 32.8, "labelOffset": 7}}
         }},
        {"data": {"values": [{}]}, "mark": {"type": "rule", "color": "#000", "strokeWidth": 1.5}, "encoding": {"x": {"datum": 1.5}, "x2": {"datum": 5.0}, "y": {"datum": -0.0674}}},
        {"data": {"values": [{}]}, "mark": {"type": "rule", "color": "#000", "strokeWidth": 1.5}, "encoding": {"x": {"datum": 1.356}, "y": {"datum": 0}, "y2": {"datum": 1.5}}},
        {"data": {"values": [{}]}, "mark": {"type": "text", "text": "C", "fontSize": 27, "fontWeight": "bold", "align": "left", "baseline": "middle", "color": "#000"}, "encoding": {"x": {"datum": 0.638}, "y": {"datum": 2.0386}}},
        {"data": {"values": [{}]}, "mark": {"type": "text", "text": "HER2-amplified stratified by ER-status", "fontSize": 21, "align": "center", "baseline": "middle", "color": "#000"}, "encoding": {"x": {"datum": 3.3103}, "y": {"datum": 1.7647}}}
      ]
    },
    {
      "width": 393.3, "height": 317.9,
      "resolve": {"axis": {"x": "independent"}},
      "layer": [
        {"data": {"name": "boxD"}, "mark": {"type": "rule", "color": "#000", "strokeWidth": 2, "strokeDash": [9, 9]},
         "encoding": {
           "x": {"field": "i", "type": "quantitative", "scale": {"domain": [-0.957, 9], "nice": false, "zero": false},
                 "axis": {"orient": "bottom", "values": [1, 2, 3, 4, 5, 6, 7, 8, 9], "offset": -12.6, "domain": false, "title": null, "labelAngle": 270, "labelFontSize": 18.5, "labelPadding": 8, "labelLimit": 400,
                          "labelExpr": "['HER2-amplified','HER2amp / non-HER2-enriched','HER2amp /ER+ / HER2-enriched','HER2amp /ER– / HER2-enriched','HER2amp / HER2-enriched','Basal–like','Luminal A','Luminal B','Normal–like'][datum.value - 1]"}},
           "y": {"field": "q3", "type": "quantitative", "scale": {"domain": [0, 100], "nice": false},
                 "axis": {"values": [0, 20, 40, 60, 80, 100], "offset": -44.3, "title": "Percentage of aberrant cells (%)", "titleX": -76, "titleY": 157.3, "titleAngle": 270, "titleAlign": "center", "titleBaseline": "middle", "labelPadding": 9}},
           "y2": {"field": "mx"}
         }},
        {"data": {"name": "boxD"}, "mark": {"type": "rule", "color": "#000", "strokeWidth": 2, "strokeDash": [9, 9]},
         "encoding": {
           "x": {"field": "i", "type": "quantitative",
                 "axis": {"orient": "top", "values": [1, 2, 3, 4, 5, 6, 7, 8, 9], "offset": 54.7, "domain": false, "title": null, "labelFontSize": 19, "labelPadding": 4,
                          "labelExpr": "['99','16','12','19','31','96','88','90','34'][datum.value - 1]"}},
           "y": {"field": "mn", "type": "quantitative"},
           "y2": {"field": "q1"}
         }},
        {"data": {"name": "boxD"}, "mark": {"type": "bar", "size": 32, "stroke": "#000", "strokeWidth": 2},
         "encoding": {
           "x": {"field": "i", "type": "quantitative", "axis": null},
           "y": {"field": "q1", "type": "quantitative"},
           "y2": {"field": "q3"},
           "color": {"field": "grp", "type": "nominal", "legend": null,
                     "scale": {"domain": ["HER2-amplified", "HER2amp / non-HER2-enriched", "HER2amp /ER+ / HER2-enriched", "HER2amp /ER– / HER2-enriched", "HER2amp / HER2-enriched", "Basal–like", "Luminal A", "Luminal B", "Normal–like"],
                               "range": ["#6633FF", "#6633FF", "#6633FF", "#6633FF", "#6633FF", "#FF0000", "#1F3FFF", "#B3F2EC", "#66FF00"]}}
         }},
        {"data": {"name": "boxD"}, "mark": {"type": "tick", "orient": "horizontal", "size": 32, "thickness": 3, "color": "#000", "opacity": 1},
         "encoding": {"x": {"field": "i", "type": "quantitative", "axis": null}, "y": {"field": "med", "type": "quantitative"}}},
        {"data": {"name": "boxD"}, "mark": {"type": "tick", "orient": "horizontal", "size": 16, "thickness": 2, "color": "#000", "opacity": 1},
         "encoding": {"x": {"field": "i", "type": "quantitative", "axis": null}, "y": {"field": "mx", "type": "quantitative"}}},
        {"data": {"name": "boxD"}, "mark": {"type": "tick", "orient": "horizontal", "size": 16, "thickness": 2, "color": "#000", "opacity": 1},
         "encoding": {"x": {"field": "i", "type": "quantitative", "axis": null}, "y": {"field": "mn", "type": "quantitative"}}},
        {"data": {"name": "outD"}, "mark": {"type": "point", "shape": "circle", "filled": false, "size": 34, "strokeWidth": 1.8, "color": "#000", "opacity": 1},
         "encoding": {"x": {"field": "i", "type": "quantitative", "axis": null}, "y": {"field": "v", "type": "quantitative"}}},
        {"data": {"name": "braceD"}, "mark": {"type": "line", "color": "#000", "strokeWidth": 2, "interpolate": "monotone"},
         "encoding": {"x": {"field": "x", "type": "quantitative", "axis": null}, "y": {"field": "y", "type": "quantitative"}}},
        {"data": {"values": [{}]}, "mark": {"type": "rule", "color": "#000", "strokeWidth": 1.5}, "encoding": {"x": {"datum": 1, "axis": null}, "x2": {"datum": 9}, "y": {"datum": 3.96}}},
        {"data": {"values": [{}]}, "mark": {"type": "rule", "color": "#000", "strokeWidth": 1.5}, "encoding": {"x": {"datum": 1, "axis": null}, "x2": {"datum": 9}, "y": {"datum": 117.2}}},
        {"data": {"values": [{}]}, "mark": {"type": "text", "text": "D", "fontSize": 27, "fontWeight": "bold", "align": "left", "baseline": "middle", "color": "#000"}, "encoding": {"x": {"datum": -3.608, "axis": null}, "y": {"datum": 130.1}}},
        {"data": {"values": [{}]}, "mark": {"type": "text", "text": "P = 0.003", "fontSize": 18.5, "align": "center", "baseline": "middle", "color": "#000"}, "encoding": {"x": {"datum": 6.975, "axis": null}, "y": {"datum": 112.5}}}
      ]
    }
  ]
}
